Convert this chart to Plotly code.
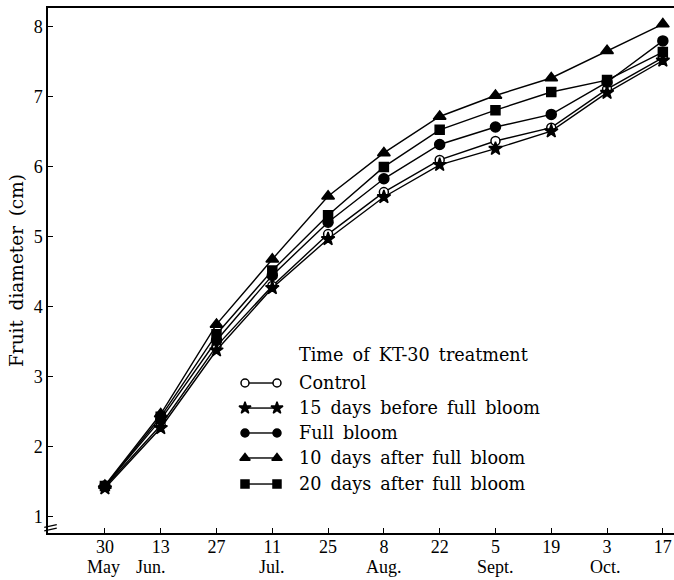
import plotly.graph_objects as go

# ---- data ----
day_labels = ["30", "13", "27", "11", "25", "8", "22", "5", "19", "3", "17"]
month_labels = ["May", "Jun.", "Jul.", "Aug.", "Sept.", "Oct."]
month_pos = [-0.02, 0.83, 3.0, 5.0, 7.0, 8.98]
x_idx = list(range(len(day_labels)))

control = [1.43, 2.31, 3.44, 4.30, 5.04, 5.64, 6.10, 6.37, 6.56, 7.11, 7.56]
before15 = [1.41, 2.27, 3.38, 4.27, 4.97, 5.57, 6.03, 6.26, 6.51, 7.06, 7.52]
full_bloom = [1.44, 2.39, 3.52, 4.45, 5.21, 5.83, 6.32, 6.57, 6.75, 7.21, 7.80]
after10 = [1.45, 2.47, 3.75, 4.68, 5.58, 6.20, 6.72, 7.02, 7.27, 7.66, 8.04]
after20 = [1.44, 2.43, 3.61, 4.52, 5.31, 6.00, 6.53, 6.81, 7.07, 7.24, 7.64]

series_names = ["Control", "15 days before full bloom", "Full bloom",
                "10 days after full bloom", "20 days after full bloom"]
series_values = [control, before15, full_bloom, after10, after20]
symbols = ["circle", "star", "circle", "triangle-up", "square"]
fills = ["white", "black", "black", "black", "black"]
sizes = [9, 10, 10, 11, 9]

FONT = "Liberation Serif"
LFONT = "DejaVu Serif"

fig = go.Figure()

for name, vals, sym, fc, sz in zip(series_names, series_values, symbols, fills, sizes):
    fig.add_trace(go.Scatter(
        x=x_idx, y=vals, mode="lines+markers", name=name,
        line=dict(color="black", width=1.4),
        marker=dict(symbol=sym, size=sz, color=fc, line=dict(color="black", width=1.5)),
        showlegend=False, cliponaxis=False,
    ))

# ---- custom legend (marker—line—marker samples) on an overlay axis ----
leg_y = [0.2857, 0.238, 0.1905, 0.1429, 0.0933]
leg_sizes = [8, 9, 8, 9, 8]
for name, sym, fc, sz, ly in zip(series_names, symbols, fills, leg_sizes, leg_y):
    fig.add_trace(go.Scatter(
        x=[0.3147, 0.3658], y=[ly, ly], mode="lines+markers",
        line=dict(color="black", width=1.4),
        marker=dict(symbol=sym, size=sz, color=fc, line=dict(color="black", width=1.5)),
        xaxis="x2", yaxis="y2", showlegend=False, hoverinfo="skip",
    ))
    fig.add_annotation(x=0.3978, y=ly, xref="x2", yref="y2",
                       text=name.replace(" ", "\u00a0\u2009"),
                       showarrow=False, xanchor="left", yanchor="middle",
                       font=dict(family=LFONT, size=17.6, color="black"))

fig.add_annotation(x=0.3978, y=0.339, xref="x2", yref="y2",
                   text="Time of KT-30 treatment".replace(" ", "\u00a0\u2009"),
                   showarrow=False, xanchor="left", yanchor="middle",
                   font=dict(family=LFONT, size=17.6, color="black"))

# month labels under the day ticks
for m, p in zip(month_labels, month_pos):
    fig.add_annotation(x=p, y=-0.0648, xref="x", yref="paper", text=m,
                       showarrow=False, xanchor="center", yanchor="middle",
                       font=dict(family=FONT, size=18, color="black"))

fig.update_layout(
    width=674, height=580,
    margin=dict(l=48, r=0, t=8, b=47),
    paper_bgcolor="white", plot_bgcolor="white",
    font=dict(family=FONT, size=17, color="black"),
    xaxis=dict(
        range=[-1.02, 10.2], tickmode="array", tickvals=x_idx, ticktext=day_labels,
        ticks="inside", ticklen=5, tickcolor="black", showgrid=False, zeroline=False,
        showline=True, linecolor="black", linewidth=1.5, mirror=True,
        tickfont=dict(family=FONT, size=18), ticklabelstandoff=-3,
    ),
    yaxis=dict(
        range=[0.77, 8.27], tickmode="array", tickvals=[1, 2, 3, 4, 5, 6, 7, 8],
        ticks="inside", ticklen=5, tickcolor="black", showgrid=False, zeroline=False,
        showline=True, linecolor="black", linewidth=1.5,
        tickfont=dict(family=FONT, size=18),
        title=dict(text="Fruit diameter (cm)".replace(" ", "\u00a0\u2009"),
                   font=dict(family=LFONT, size=18.5), standoff=5),
    ),
    xaxis2=dict(range=[0, 1], overlaying="x", visible=False),
    yaxis2=dict(range=[0, 1], overlaying="y", visible=False),
)

# axis break marks on the y axis
for y0 in [0.82, 0.87]:
    fig.add_shape(type="line", xref="paper", yref="y", x0=-0.006, x1=0.014,
                  y0=y0 - 0.02, y1=y0 + 0.02, line=dict(color="black", width=1.3))

fig.write_html("out.html")
